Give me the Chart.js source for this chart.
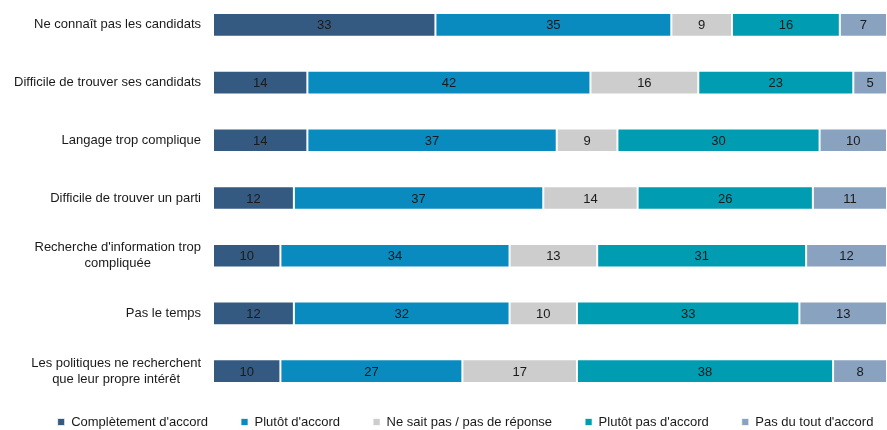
<!DOCTYPE html>
<html>
<head>
<meta charset="utf-8">
<script src="https://cdn.jsdelivr.net/npm/chart.js@4"></script>
<style>
  html, body { margin: 0; padding: 0; background: #fff; overflow: hidden; }
  #wrap { position: absolute; left: 0; top: -4px; width: 887px; height: 434px; }
</style>
</head>
<body>
<div id="wrap"><canvas id="chart"></canvas></div>
<script>
// Categories (multi-line where the reference wraps)
const categories = [
    ['Ne connaît pas les candidats'],
    ['Difficile de trouver ses candidats'],
    ['Langage trop complique'],
    ['Difficile de trouver un parti'],
    ['Recherche d\'information trop', 'compliquée'],
    ['Pas le temps'],
    ['Les politiques ne recherchent', 'que leur propre intérêt']
];
const seriesNames = ['Complètement d\'accord', 'Plutôt d\'accord', 'Ne sait pas / pas de réponse', 'Plutôt pas d\'accord', 'Pas du tout d\'accord'];
const completement = [33, 14, 14, 12, 10, 12, 10];
const plutot = [35, 42, 37, 37, 34, 32, 27];
const nsp = [9, 16, 9, 14, 13, 10, 17];
const plutotPas = [16, 23, 30, 26, 31, 33, 38];
const pasDuTout = [7, 5, 10, 11, 12, 13, 8];
const colors = ['#355a82', '#0a8bc0', '#cdcdcd', '#009db2', '#89a2c0'];

const FONT = '"Liberation Sans", Arial, sans-serif';
const LEGEND_PAD = 33;

// Draw category labels (right-aligned block, lines centered) and the values in the bars
const labelPlugin = {
    id: 'labels',
    afterDatasetsDraw(chart) {
        const ctx = chart.ctx;
        const yScale = chart.scales.y;
        ctx.save();
        ctx.font = '13px ' + FONT;
        ctx.fillStyle = '#1a1a1a';
        ctx.textBaseline = 'middle';
        ctx.textAlign = 'center';
        categories.forEach((lines, i) => {
            const cy = yScale.getPixelForValue(i);
            const maxW = Math.max(...lines.map(l => ctx.measureText(l).width));
            const cx = 201 - maxW / 2;
            const lh = 16;
            lines.forEach((l, j) => {
                ctx.fillText(l, cx, cy + (j - (lines.length - 1) / 2) * lh);
            });
        });
        chart.data.datasets.forEach((ds, di) => {
            chart.getDatasetMeta(di).data.forEach((bar, i) => {
                const c = bar.getCenterPoint();
                ctx.fillText(String(ds.data[i]), c.x, c.y + 1);
            });
        });
        ctx.restore();
    }
};

// Keep the legend short (wide horizontal gaps, small band under the bars)
const legendFitPlugin = {
    id: 'legendFit',
    beforeLayout(chart) {
        const lg = chart.legend;
        if (lg && !lg._wrapped) {
            const orig = lg.fit;
            lg.fit = function () { orig.call(this); this.height = 30; };
            lg._wrapped = true;
        }
    },
    afterLayout(chart) {
        const lg = chart.legend;
        const dy = LEGEND_PAD + 6.5 - 22;
        lg.top -= dy;
        lg.bottom = lg.top + 100;
        lg.left += 22; lg.right += 22;
    }
};

const allSeries = [completement, plutot, nsp, plutotPas, pasDuTout];

new Chart(document.getElementById('chart'), {
    type: 'bar',
    data: {
        labels: categories.map(c => c.join(' ')),
        datasets: allSeries.map((data, i) => ({
            label: seriesNames[i],
            data: data,
            backgroundColor: colors[i],
            borderColor: 'rgba(255,255,255,0.7)',
            borderWidth: 1,
            borderSkipped: false,
            categoryPercentage: 1,
            barPercentage: 0.41
        }))
    },
    options: {
        indexAxis: 'y',
        responsive: true,
        maintainAspectRatio: false,
        animation: false,
        layout: { padding: 0 },
        scales: {
            x: { stacked: true, min: 0, max: 100, display: false },
            y: {
                stacked: true,
                ticks: { display: false },
                grid: { display: false },
                border: { display: false },
                afterFit(scale) { scale.width = 213; }
            }
        },
        plugins: {
            legend: {
                position: 'bottom',
                labels: {
                    boxWidth: 7,
                    boxHeight: 7,
                    padding: LEGEND_PAD,
                    color: '#1a1a1a',
                    font: { family: FONT, size: 13 }
                }
            },
            tooltip: { enabled: false }
        }
    },
    plugins: [labelPlugin, legendFitPlugin]
});
</script>
</body>
</html>
